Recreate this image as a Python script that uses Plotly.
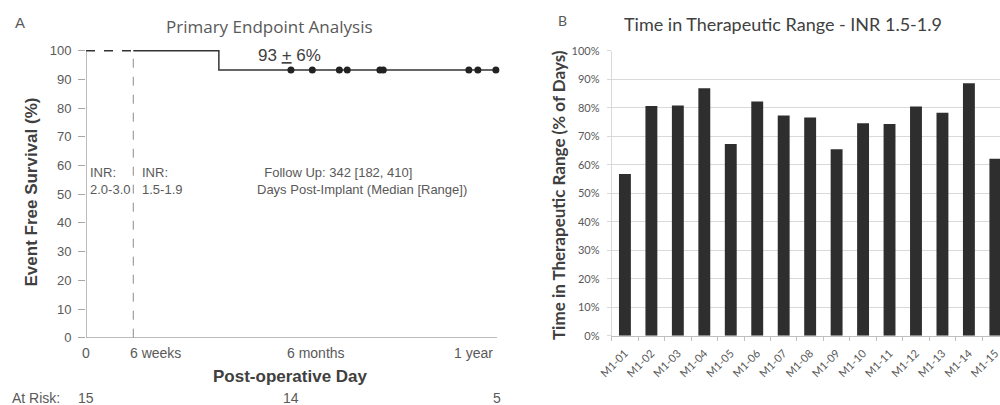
import plotly.graph_objects as go

# ---------------- Data ----------------
# Panel A: Kaplan-Meier (event free survival, %)
phase1_days = [0, 42]            # INR 2.0-3.0 phase (dashed)
phase1_surv = [100, 100]
phase2_days = [42, 118, 365]     # INR 1.5-1.9 phase (solid, step)
phase2_surv = [100, 93.3, 93.3]
censor_days = [182, 201, 225, 232, 261, 264, 340, 348, 364]
censor_surv = [93.3, 93.3, 93.3, 93.3, 93.3, 93.3, 93.3, 93.3, 93.3]
inr_switch_day = 42
y_ticks_a = [0, 10, 20, 30, 40, 50, 60, 70, 80, 90, 100]
x_tick_days = [0, 42, 182, 365]
x_tick_text = ["0", "6 weeks", "6 months", "1 year"]
at_risk_days = [0, 182, 365]
at_risk_n = ["15", "14", "5"]

# Panel B: time in therapeutic range (% of days)
patients = ["M1-01", "M1-02", "M1-03", "M1-04", "M1-05", "M1-06", "M1-07", "M1-08",
            "M1-09", "M1-10", "M1-11", "M1-12", "M1-13", "M1-14", "M1-15"]
ttr = [56.7, 80.6, 80.8, 86.8, 67.3, 82.2, 77.3, 76.6, 65.4, 74.5, 74.3, 80.4, 78.2, 88.6, 62.1]
y_ticks_b = [0, 10, 20, 30, 40, 50, 60, 70, 80, 90, 100]
y_ticktext_b = [f"{v}%" for v in y_ticks_b]

# ---------------- Figure ----------------
W, H = 1000, 405
ARIAL = "Liberation Sans, Arial, sans-serif"
LATO = "Lato, sans-serif"
GRAY_TXT = "#595959"
DARK = "#333333"

fig = go.Figure()

# Panel A traces
fig.add_trace(go.Scatter(x=phase1_days, y=phase1_surv, mode="lines",
                         line=dict(color=DARK, width=1.5, dash="dash"),
                         xaxis="x", yaxis="y", showlegend=False, hoverinfo="skip"))
fig.add_trace(go.Scatter(x=phase2_days, y=phase2_surv, mode="lines",
                         line=dict(color=DARK, width=1.5, shape="hv"),
                         xaxis="x", yaxis="y", showlegend=False))
fig.add_trace(go.Scatter(x=censor_days, y=censor_surv, mode="markers",
                         marker=dict(color="#222222", size=7),
                         cliponaxis=False,
                         xaxis="x", yaxis="y", showlegend=False))

# Panel B bars
fig.add_trace(go.Bar(x=patients, y=ttr, marker=dict(color="#2e2e2e", line=dict(width=0)),
                     xaxis="x2", yaxis="y2", showlegend=False))

# pixel helpers
def px_x(p):
    return p / W

def px_y(p):
    return 1 - p / H

fig.update_layout(
    width=W, height=H,
    margin=dict(l=0, r=0, t=0, b=0),
    paper_bgcolor="white", plot_bgcolor="white",
    bargap=0.55,
    xaxis=dict(domain=[px_x(86), px_x(497)], range=[0, 365], automargin=False,
               anchor="y",
               showgrid=False, zeroline=False, showline=False,
               showticklabels=False, ticks=""),
    yaxis=dict(domain=[px_y(337.7), px_y(39.2)], range=[0, 104], automargin=False,
               anchor="x",
               showgrid=False, zeroline=False, showline=False,
               tickvals=y_ticks_a, ticks="outside", ticklen=7, tickwidth=1.2,
               tickcolor="#a6a6a6", ticklabelstandoff=4,
               tickfont=dict(family=ARIAL, size=13, color=GRAY_TXT)),
    xaxis2=dict(domain=[px_x(611.7), 1.0], range=[-0.5, 14.175], automargin=False,
                anchor="y2", type="category",
                showgrid=False, zeroline=False, showline=True,
                linecolor="#bfbfbf", linewidth=1,
                ticks="outside", tickson="boundaries", ticklen=4,
                tickcolor="#bfbfbf", ticklabelstandoff=6,
                tickangle=-45,
                tickfont=dict(family=LATO, size=11, color=GRAY_TXT)),
    yaxis2=dict(domain=[px_y(335.7), px_y(50.7)], range=[0, 100], automargin=False,
                anchor="x2",
                tickvals=y_ticks_b, ticktext=y_ticktext_b,
                showgrid=True, gridcolor="#d9d9d9", gridwidth=1,
                zeroline=False, showline=True, linecolor="#d9d9d9", linewidth=1,
                ticks="outside", ticklen=4, tickcolor="#d9d9d9",
                ticklabelstandoff=5,
                tickfont=dict(family=LATO, size=11, color=GRAY_TXT)),
)

shapes = []
# Panel A axis lines
shapes.append(dict(type="line", xref="x", yref="y", x0=0, x1=0, y0=0, y1=100,
                   line=dict(color="#a6a6a6", width=1.5), layer="below"))
shapes.append(dict(type="line", xref="x", yref="y", x0=0, x1=365, y0=0, y1=0,
                   line=dict(color="#a6a6a6", width=1.5), layer="below"))
# INR switch dashed line
shapes.append(dict(type="line", xref="x", yref="y", x0=inr_switch_day, x1=inr_switch_day,
                   y0=0, y1=100, line=dict(color="#8c8c8c", width=1, dash="dash"),
                   layer="below"))
fig.update_layout(shapes=shapes)

ann = []
# Panel letters and titles
ann.append(dict(text="A", x=px_x(13), y=px_y(22), xref="paper", yref="paper",
                xanchor="left", yanchor="middle", showarrow=False,
                font=dict(family=ARIAL, size=15, color=GRAY_TXT)))
ann.append(dict(text="Primary Endpoint Analysis", x=px_x(269), y=px_y(27),
                xref="paper", yref="paper", xanchor="center", yanchor="middle",
                showarrow=False, font=dict(family="Open Sans, sans-serif", size=17, color=GRAY_TXT)))
ann.append(dict(text="B", x=px_x(562.5), y=px_y(20), xref="paper", yref="paper",
                xanchor="center", yanchor="middle", showarrow=False,
                font=dict(family=LATO, size=14, color=GRAY_TXT)))
ann.append(dict(text="Time in Therapeutic Range - INR 1.5-1.9", x=px_x(783), y=px_y(24.5),
                xref="paper", yref="paper", xanchor="center", yanchor="middle",
                showarrow=False, font=dict(family=LATO, size=18, color="#404040")))

# Panel A axis titles
ann.append(dict(text="<b>Event Free Survival (%)</b>", x=px_x(31), y=px_y(192.5),
                xref="paper", yref="paper", xanchor="center", yanchor="middle",
                textangle=-90, showarrow=False,
                font=dict(family=ARIAL, size=17, color="#404040")))
ann.append(dict(text="<b>Post-operative Day</b>", x=px_x(290), y=px_y(376.7),
                xref="paper", yref="paper", xanchor="center", yanchor="middle",
                showarrow=False, font=dict(family=ARIAL, size=17, color="#404040")))
# Panel B y title
ann.append(dict(text="<b>Time in Therapeutic Range (% of Days)</b>", x=px_x(559), y=px_y(195),
                xref="paper", yref="paper", xanchor="center", yanchor="middle",
                textangle=-90, showarrow=False,
                font=dict(family=LATO, size=17, color="#404040")))

# Panel A x tick labels
tick_anchor = ["center", "left", "left", "right"]
tick_shift = [0, -5, -6, -2]
for d, t, a, s in zip(x_tick_days, x_tick_text, tick_anchor, tick_shift):
    ann.append(dict(text=t, x=d, y=px_y(353), xref="x", yref="paper",
                    xanchor=a, yanchor="middle", xshift=s, showarrow=False,
                    font=dict(family=ARIAL, size=14, color=GRAY_TXT)))

# At risk row
ann.append(dict(text="At Risk:", x=px_x(10), y=px_y(397.5), xref="paper", yref="paper",
                xanchor="left", yanchor="middle", showarrow=False,
                font=dict(family=ARIAL, size=14, color=GRAY_TXT)))
for d, n in zip(at_risk_days, at_risk_n):
    ann.append(dict(text=n, x=d, y=px_y(397.5), xref="x", yref="paper",
                    xanchor="center", yanchor="middle", showarrow=False,
                    font=dict(family=ARIAL, size=14, color=GRAY_TXT)))

# In-plot annotations panel A
ann.append(dict(text="93 <u>+</u> 6%", x=181, y=98.2, xref="x", yref="y",
                xanchor="center", yanchor="middle", showarrow=False,
                font=dict(family=ARIAL, size=17, color="#404040")))
ann.append(dict(text="INR:<br>2.0-3.0", x=2, y=54.6, xref="x", yref="y",
                xanchor="left", yanchor="middle", align="left", showarrow=False,
                font=dict(family=ARIAL, size=13, color=GRAY_TXT)))
ann.append(dict(text="INR:<br>1.5-1.9", x=48, y=54.6, xref="x", yref="y",
                xanchor="left", yanchor="middle", align="left", showarrow=False,
                font=dict(family=ARIAL, size=13, color=GRAY_TXT)))
ann.append(dict(text="\u00a0\u00a0Follow Up: 342 [182, 410]<br>Days Post-Implant (Median [Range])",
                x=150, y=54.6, xref="x", yref="y",
                xanchor="left", yanchor="middle", align="left", showarrow=False,
                font=dict(family=ARIAL, size=13, color=GRAY_TXT)))

fig.update_layout(annotations=ann)

fig.write_html("out.html")
